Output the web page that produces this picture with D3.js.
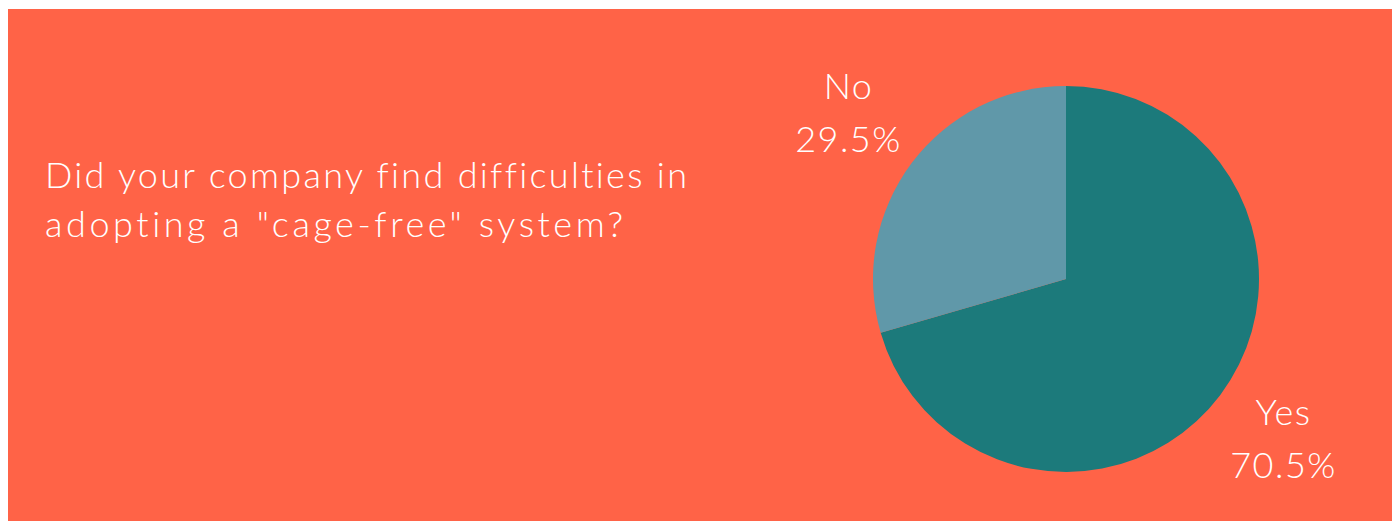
<!DOCTYPE html>
<html>
<head>
<meta charset="utf-8">
<script src="https://cdn.jsdelivr.net/npm/d3@7"></script>
<style>
  html, body { margin: 0; padding: 0; background: #ffffff; }
  svg { display: block; }
  text {
    font-family: "Lato", "Open Sans", sans-serif;
    font-weight: 300;
    fill: #ffffff;
    font-variant-ligatures: none;
    font-feature-settings: "liga" 0, "clig" 0;
  }
</style>
</head>
<body>
<svg id="chart" width="1392" height="521"></svg>
<script>
// Survey answers
const categories = ["Yes", "No"];
const shares = [70.5, 29.5];
const sliceColors = ["#1c7a7b", "#6098a9"];
const titleLines = ["Did your company find difficulties in", "adopting a \"cage-free\" system?"];
const titleWidths = [642, 578];

const width = 1392, height = 521;
const svg = d3.select("#chart");

// panel background
svg.append("rect")
  .attr("x", 8).attr("y", 9)
  .attr("width", width - 8).attr("height", height - 9)
  .attr("fill", "#ff6347");

// question text, each line spaced out to its measure
const title = svg.append("g").attr("transform", "translate(45,0)");
title.selectAll("text")
  .data(titleLines)
  .join("text")
  .attr("x", 0)
  .attr("y", (d, i) => 188 + i * 49)
  .attr("font-size", 36)
  .text(d => d)
  .each(function (d, i) {
    const natural = this.getComputedTextLength();
    const ls = (titleWidths[i] - natural) / (d.length - 1);
    d3.select(this).attr("letter-spacing", Math.max(0, ls));
  });

// pie
const cx = 1066, cy = 279, radius = 193;
const data = categories.map((c, i) => ({ label: c, value: shares[i], color: sliceColors[i] }));
const pie = d3.pie().value(d => d.value).sort(null);
const arc = d3.arc().innerRadius(0).outerRadius(radius);
const labelArc = d3.arc().innerRadius(272).outerRadius(272);

const g = svg.append("g").attr("transform", `translate(${cx},${cy})`);
const arcs = pie(data);

g.selectAll("path")
  .data(arcs)
  .join("path")
  .attr("d", arc)
  .attr("fill", d => d.data.color);

const labels = g.selectAll("g.lbl")
  .data(arcs)
  .join("g")
  .attr("class", "lbl")
  .attr("transform", d => `translate(${labelArc.centroid(d)})`);

labels.append("text")
  .attr("text-anchor", "middle")
  .attr("y", -17)
  .attr("font-size", 36)
  .attr("letter-spacing", 1.5)
  .text(d => d.data.label);

labels.append("text")
  .attr("text-anchor", "middle")
  .attr("y", 36)
  .attr("font-size", 36)
  .attr("letter-spacing", 1.5)
  .text(d => d.data.value.toFixed(1) + "%");
</script>
</body>
</html>
